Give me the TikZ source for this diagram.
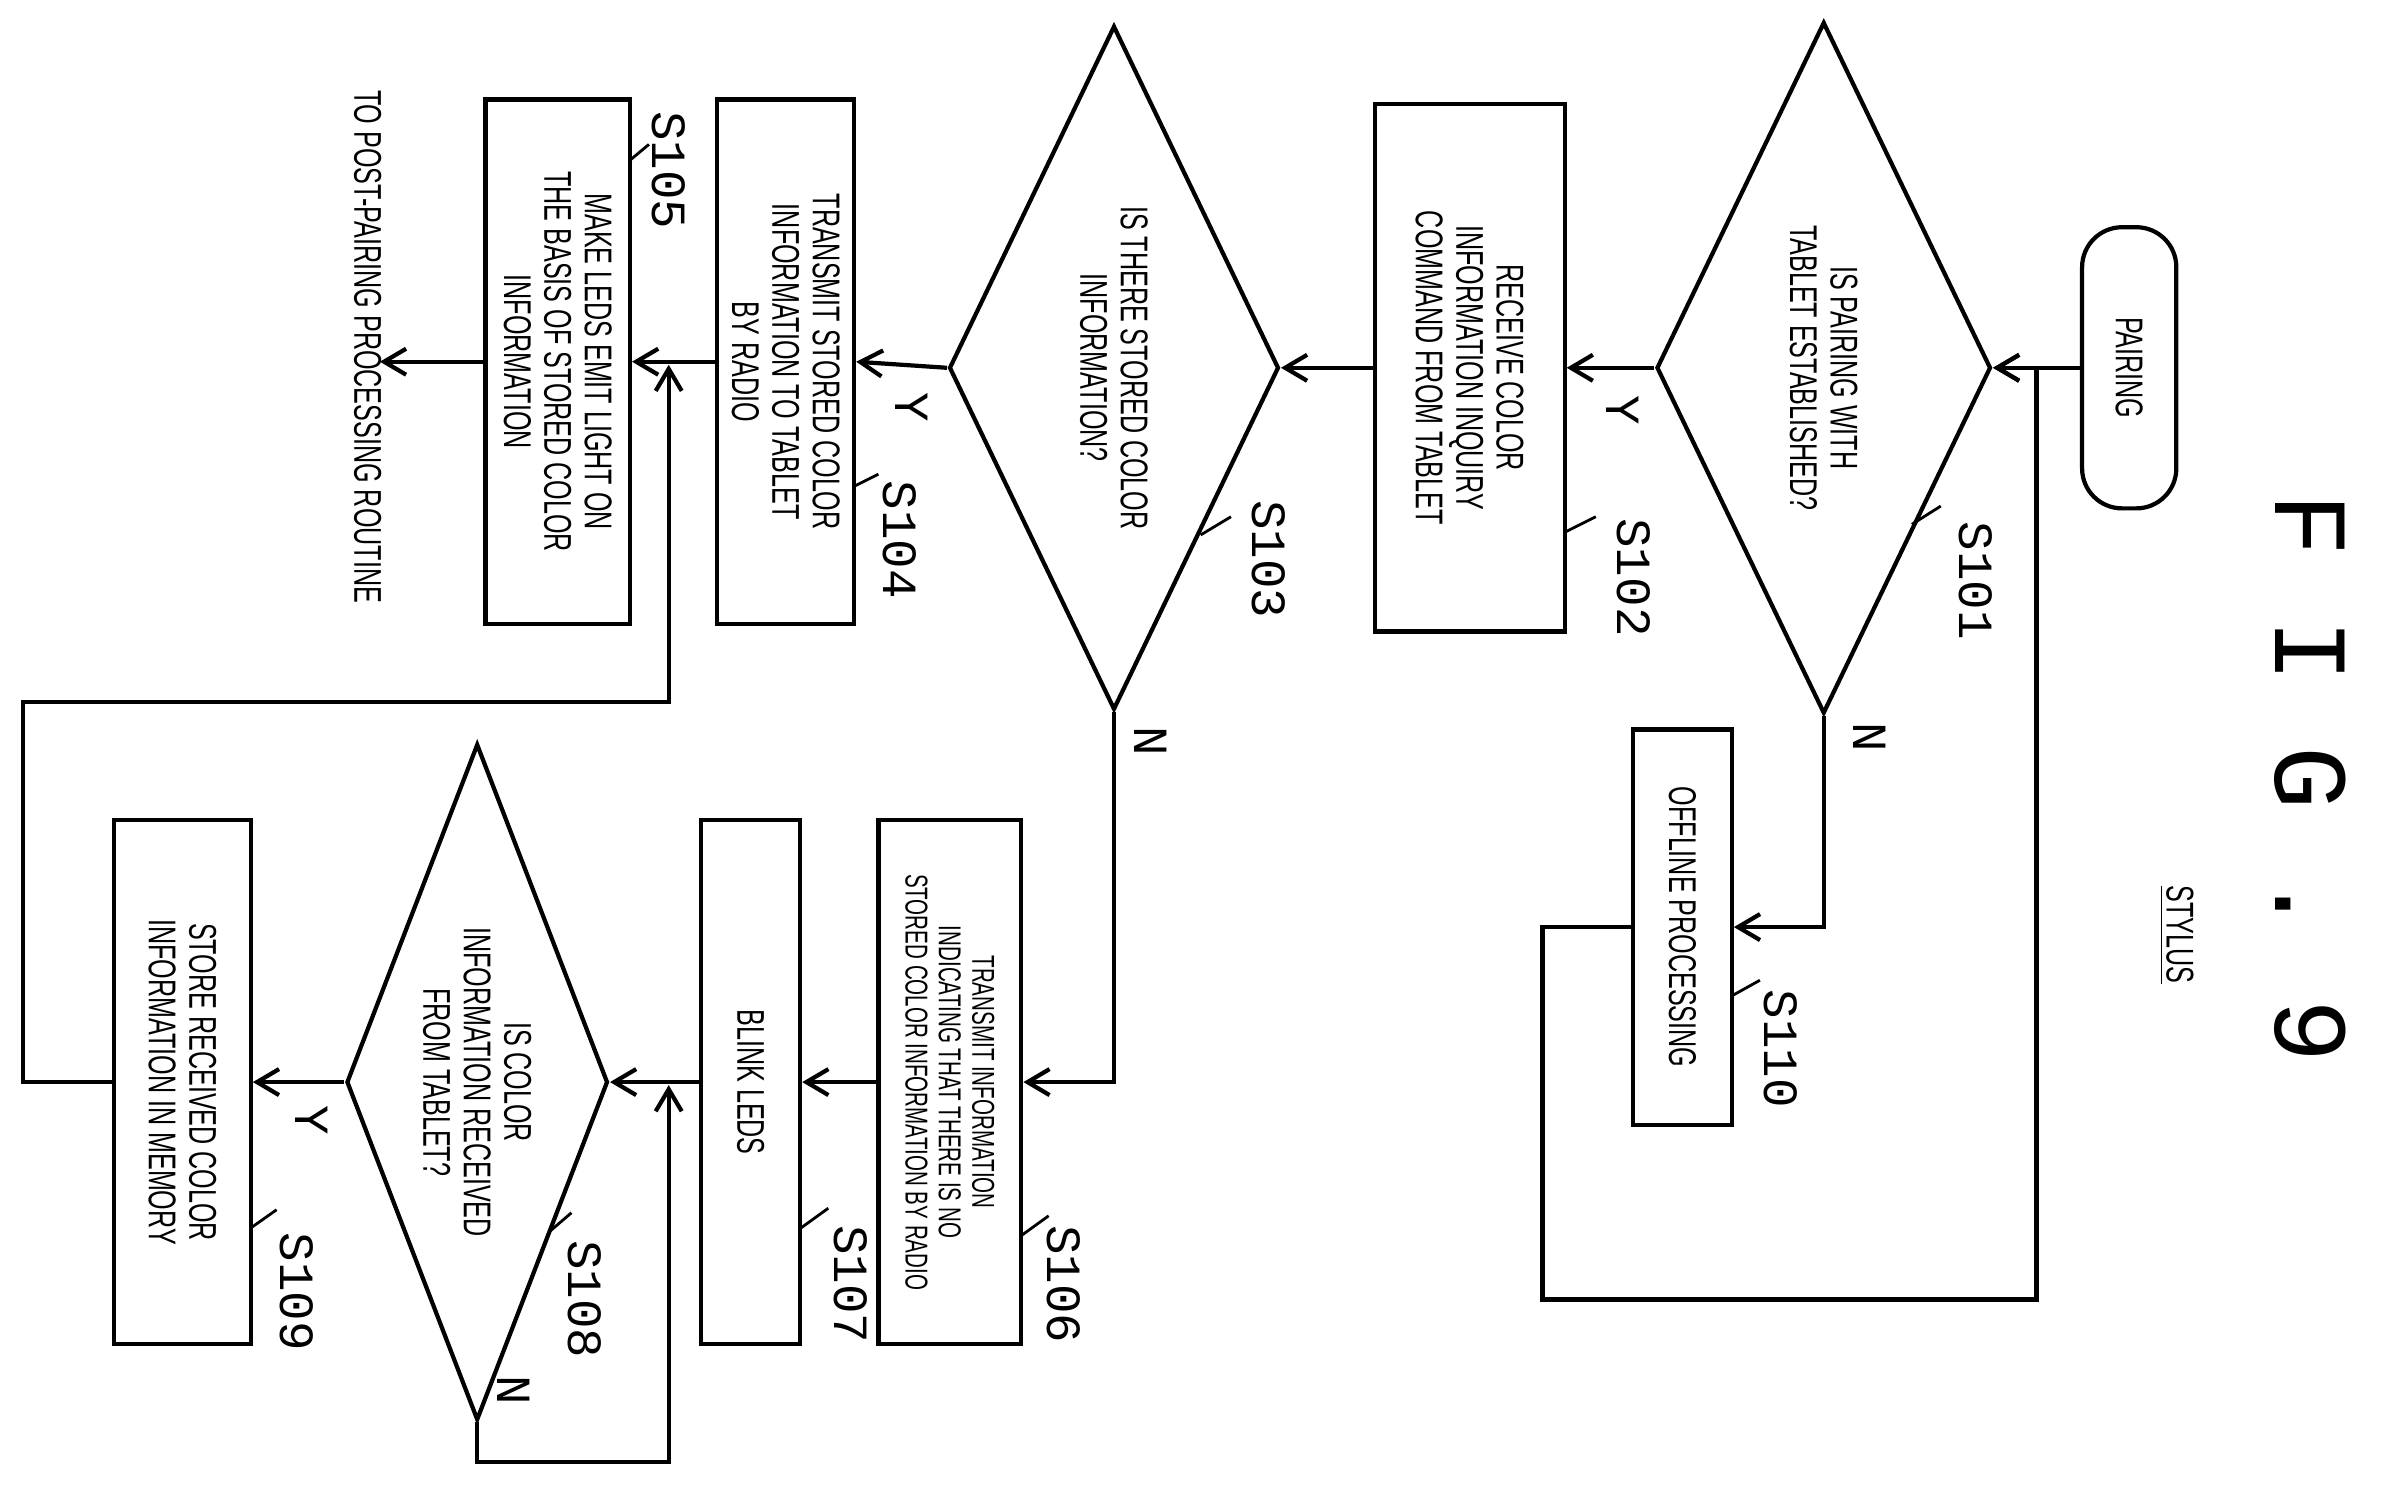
\documentclass[tikz,border=0pt]{standalone}
\usepackage{fontspec}
\setmainfont{Liberation Sans}[FakeStretch=0.65]
\setmonofont{Liberation Mono}
\usetikzlibrary{shapes.geometric,arrows.meta}
\newcommand{\pxl}{0.152mm}
\tikzset{
  box/.style={draw,rotate=-90,align=center,inner sep=2pt,
    font=\fontsize{11}{11.5}\selectfont},
  decision/.style={box,diamond,inner sep=-4pt},
  stepno/.style={rotate=-90,font=\ttfamily\fontsize{14}{14}\selectfont,inner sep=0pt},
  tick/.style={line width=0.8pt},
}
\begin{document}
\begin{tikzpicture}[x=0.152mm,y=-0.152mm,line width=1.2pt,>={Straight Barb[length=2.2mm,width=2.6mm]}]
  \useasboundingbox (0,0) rectangle (1568,981);

  % main column
  \node[box,rounded corners=4mm,minimum width={185*\pxl},minimum height={62*\pxl}] (pair) at (1401,242) {PAIRING};
  \node[decision,aspect=2.07,minimum width={455*\pxl},minimum height={220*\pxl}] (s101) at (1200,242) {IS PAIRING WITH\\TABLET ESTABLISHED?};
  \node[box,minimum width={347*\pxl},minimum height={125*\pxl}] (s102) at (967,242) {RECEIVE COLOR\\INFORMATION INQUIRY\\COMMAND FROM TABLET};
  \node[decision,aspect=2.07,minimum width={450*\pxl},minimum height={217*\pxl}] (s103) at (733,242) {IS THERE STORED COLOR\\INFORMATION?};
  \node[box,minimum width={345*\pxl},minimum height={90*\pxl}] (s104) at (517,238) {TRANSMIT STORED COLOR\\INFORMATION TO TABLET\\BY RADIO};
  \node[box,minimum width={345*\pxl},minimum height={95*\pxl}] (s105) at (367,238) {MAKE LEDS EMIT LIGHT ON\\THE BASIS OF STORED COLOR\\INFORMATION};
  \node[rotate=-90,font=\fontsize{11}{11}\selectfont] (post) at (242,228) {TO POST-PAIRING PROCESSING ROUTINE};
  \coordinate (postend) at (250,238);

  % offline branch
  \node[box,minimum width={260*\pxl},minimum height={65*\pxl}] (s110) at (1107,610) {OFFLINE PROCESSING};

  % no stored color branch
  \node[box,minimum width={345*\pxl},minimum height={94*\pxl},font=\fontsize{9}{9.5}\selectfont] (s106) at (625,712) {TRANSMIT INFORMATION\\INDICATING THAT THERE IS NO\\STORED COLOR INFORMATION BY RADIO};
  \node[box,minimum width={345*\pxl},minimum height={65*\pxl}] (s107) at (494,712) {BLINK LEDS};
  \node[decision,aspect=2.6,minimum width={445*\pxl},minimum height={172*\pxl}] (s108) at (314,712) {IS COLOR\\INFORMATION RECEIVED\\FROM TABLET?};
  \node[box,minimum width={345*\pxl},minimum height={90*\pxl}] (s109) at (120,712) {STORE RECEIVED COLOR\\INFORMATION IN MEMORY};

  % title
  \node[rotate=-90,font=\ttfamily\fontsize{30}{30}\selectfont] (fig) at (1520,512) {F I G . 9};
  \node[rotate=-90,font=\fontsize{11}{11}\selectfont] (stylus) at (1432,615) {\underline{STYLUS}};

  % step labels
  \node[stepno] (l101) at (1300,382) {S101};
  \node[stepno] (l102) at (1075,380) {S102};
  \node[stepno] (l103) at (835,368) {S103};
  \node[stepno] (l104) at (592,355) {S104};
  \node[stepno] (l105) at (440,112) {S105};
  \node[stepno] (l106) at (700,845) {S106};
  \node[stepno] (l107) at (560,845) {S107};
  \node[stepno] (l108) at (385,855) {S108};
  \node[stepno] (l109) at (195,850) {S109};
  \node[stepno] (l110) at (1172,690) {S110};
  \draw[tick] (1258,345) -- (1277,333);
  \draw[tick] (1030,350) -- (1050,340);
  \draw[tick] (790,352) -- (810,340);
  \draw[tick] (562,320) -- (578,312);
  \draw[tick] (415,105) -- (427,95);
  \draw[tick] (672,813) -- (690,800);
  \draw[tick] (527,808) -- (545,795);
  \draw[tick] (362,810) -- (376,798);
  \draw[tick] (165,808) -- (182,796);
  \draw[tick] (1140,655) -- (1158,645);

  % Y / N labels
  \node[stepno] (y101) at (1068,270) {Y};
  \node[stepno] (n101) at (1230,485) {N};
  \node[stepno] (y103) at (600,268) {Y};
  \node[stepno] (n103) at (757,488) {N};
  \node[stepno] (y108) at (205,737) {Y};
  \node[stepno] (n108) at (338,915) {N};

  % connectors
  \draw[->] (pair.south) -- (s101.north);
  \draw[->] (s101.south) -- (s102.north);
  \draw[->] (s101.east) |- (s110.north);
  \draw[->] (s110.south) -- (1015,610) |- (1340,855) |- (s101.north);
  \draw[->] (s102.south) -- (s103.north);
  \draw[->] (s103.south) -- (s104.north);
  \draw[->] (s104.south) -- (s105.north);
  \draw[->] (s105.south) -- (postend);
  \draw[->] (s103.east) |- (s106.north);
  \draw[->] (s106.south) -- (s107.north);
  \draw[->] (s107.south) -- (s108.north);
  \draw[->] (s108.east) |- (440,962) -- (440,714);
  \draw[->] (s108.south) -- (s109.north);
  \draw[->] (s109.south) -- (15,712) |- (440,462) -- (440,240);
\end{tikzpicture}
\end{document}
